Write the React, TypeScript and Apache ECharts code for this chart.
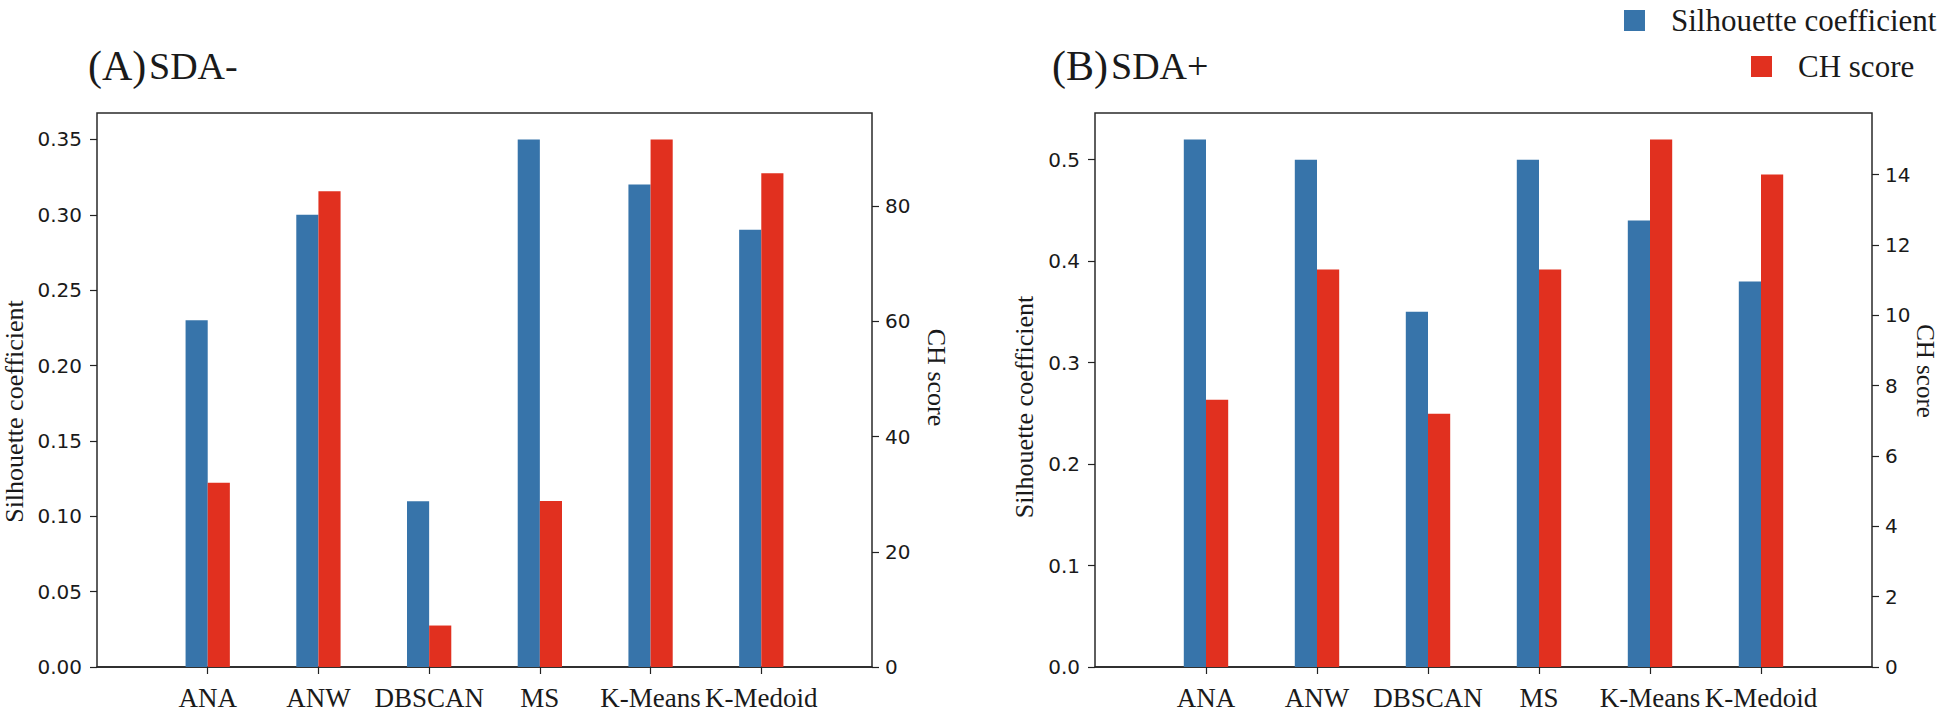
import React, { useEffect, useRef } from "react";
import * as echarts from "echarts";

const categories = ["ANA", "ANW", "DBSCAN", "MS", "K-Means", "K-Medoid"];

// (A) SDA-
const silhouetteA = [0.23, 0.3, 0.11, 0.35, 0.32, 0.29];
const chScoreA = [32.0, 82.6, 7.2, 28.8, 91.6, 85.7];
// (B) SDA+
const silhouetteB = [0.52, 0.5, 0.35, 0.5, 0.44, 0.38];
const chScoreB = [7.6, 11.3, 7.2, 11.3, 15.0, 14.0];

const ticksSilA = [0, 0.05, 0.1, 0.15, 0.2, 0.25, 0.3, 0.35];
const ticksChA = [0, 20, 40, 60, 80];
const ticksSilB = [0, 0.1, 0.2, 0.3, 0.4, 0.5];
const ticksChB = [0, 2, 4, 6, 8, 10, 12, 14];

const BLUE = "#3774aa";
const RED = "#e1301f";
const INK = "#1a1a1a";
const SERIF = "Liberation Serif";
const SANS = "DejaVu Sans";

// square legend marker followed by an empty gap
const LEGEND_ICON = "path://M0,0H21V21H0Z M42,21L42,21.01";

const axisCats = ["", ...categories, " "];
const pad = (arr: number[]) => [null, ...arr, null];

function yAxis(
  gridIndex: number,
  position: "left" | "right",
  values: number[],
  ticks: number[],
  decimals: number,
  name: string,
  nameGap: number,
  nameRotate: number,
  nameSize: number,
  namePadding: number[],
  labelMargin: number
) {
  return {
    type: "value",
    gridIndex,
    position,
    min: 0,
    max: Math.max(...values) * 1.05,
    name,
    nameLocation: "middle",
    nameGap,
    nameRotate,
    nameMoveOverlap: false,
    nameTextStyle: {
      fontFamily: SERIF,
      fontSize: nameSize,
      fontWeight: "normal",
      color: INK,
      padding: namePadding,
    },
    axisLine: { show: false },
    splitLine: { show: false },
    axisTick: {
      show: true,
      customValues: ticks,
      length: 7,
      lineStyle: { color: "#222", width: 1.2 },
    },
    axisLabel: {
      customValues: ticks,
      formatter: (v: number) => v.toFixed(decimals),
      fontFamily: SANS,
      fontSize: 20,
      color: INK,
      margin: labelMargin,
    },
  };
}

function xAxis(gridIndex: number) {
  return {
    type: "category",
    gridIndex,
    data: axisCats,
    boundaryGap: false,
    axisLine: { show: true, lineStyle: { color: "#222", width: 1.5 } },
    axisTick: {
      show: true,
      length: 7,
      interval: (_i: number, v: string) => v.trim() !== "",
      lineStyle: { color: "#222", width: 1.2 },
    },
    axisLabel: {
      interval: 0,
      fontFamily: SERIF,
      fontSize: 27,
      color: INK,
      margin: 17,
    },
    splitLine: { show: false },
  };
}

function bar(name: string, xi: number, yi: number, data: number[], color: string) {
  return {
    type: "bar",
    name,
    xAxisIndex: xi,
    yAxisIndex: yi,
    data: pad(data),
    barWidth: "20%",
    barGap: "0%",
    itemStyle: { color },
  };
}

const titleStyle = (size: number) => ({
  fontFamily: SERIF,
  fontSize: size,
  fontWeight: "normal",
  color: INK,
});

function legend(name: string, left: number, top: number, size: number) {
  return {
    data: [{ name, icon: LEGEND_ICON }],
    left,
    top,
    padding: 0,
    itemWidth: 42,
    itemHeight: 21,
    selectedMode: false,
    textStyle: {
      fontFamily: SERIF,
      fontSize: size,
      fontWeight: "normal",
      color: INK,
    },
  };
}

export default function App() {
  const ref = useRef<HTMLDivElement>(null);

  useEffect(() => {
    if (!ref.current) return;
    const chart = echarts.init(ref.current, null, { renderer: "svg" });
    const option: any = {
      animation: false,
      backgroundColor: "#ffffff",
      textStyle: { fontFamily: SERIF, color: INK },
      title: [
        { text: "(A)", left: 88, top: 45, padding: 0, textStyle: titleStyle(42) },
        { text: "SDA-", left: 149, top: 47, padding: 0, textStyle: titleStyle(38) },
        { text: "(B)", left: 1052, top: 45, padding: 0, textStyle: titleStyle(42) },
        { text: "SDA+", left: 1111, top: 47, padding: 0, textStyle: titleStyle(38) },
      ],
      legend: [
        legend("Silhouette coefficient", 1624, 5, 31),
        legend("CH score", 1751, 51, 31),
      ],
      grid: [
        {
          left: 97,
          top: 113,
          width: 775,
          height: 554,
          show: true,
          borderColor: "#2a2a2a",
          borderWidth: 1.5,
          outerBoundsMode: "none",
        },
        {
          left: 1095,
          top: 113,
          width: 777,
          height: 554,
          show: true,
          borderColor: "#2a2a2a",
          borderWidth: 1.5,
          outerBoundsMode: "none",
        },
      ],
      xAxis: [xAxis(0), xAxis(1)],
      yAxis: [
        yAxis(0, "left", silhouetteA, ticksSilA, 2, "Silhouette coefficient", 70, 90, 26, [0, 43, 0, 0], 15),
        yAxis(0, "right", chScoreA, ticksChA, 0, "CH score", 51, -90, 26, [0, 25, 0, 0], 13),
        yAxis(1, "left", silhouetteB, ticksSilB, 1, "Silhouette coefficient", 58, 90, 26, [0, 34, 0, 0], 15),
        yAxis(1, "right", chScoreB, ticksChB, 0, "CH score", 41, -90, 25, [0, 38, 0, 0], 13),
      ],
      series: [
        bar("Silhouette coefficient", 0, 0, silhouetteA, BLUE),
        bar("CH score", 0, 1, chScoreA, RED),
        bar("Silhouette coefficient", 1, 2, silhouetteB, BLUE),
        bar("CH score", 1, 3, chScoreB, RED),
      ],
    };
    chart.setOption(option);
    return () => chart.dispose();
  }, []);

  return (
    <div
      ref={ref}
      style={{ position: "fixed", left: 0, top: 0, width: "1943px", height: "713px", background: "#fff" }}
    />
  );
}
